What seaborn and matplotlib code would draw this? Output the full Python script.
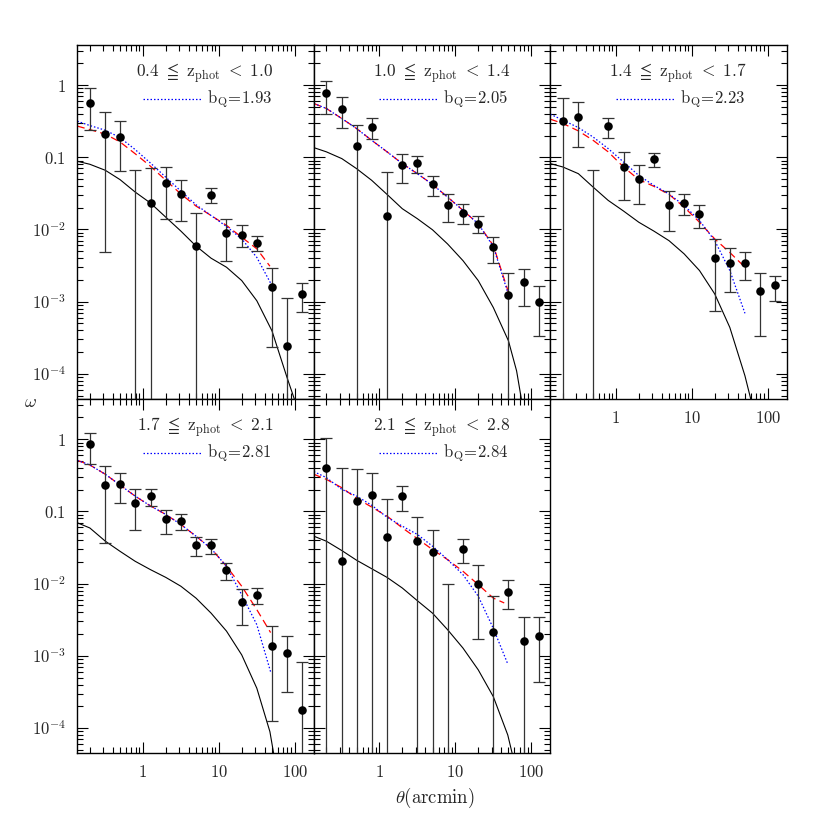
import numpy as np
import pandas as pd
import matplotlib
matplotlib.use("Agg")
import matplotlib.pyplot as plt
import seaborn as sns
from matplotlib.ticker import FixedLocator, FixedFormatter, LogLocator, NullFormatter

# ---------------- data ----------------
theta = [0.2, 0.32, 0.5, 0.79, 1.26, 2.0, 3.16, 5.0, 7.9, 12.6, 20.0, 31.6, 50.0, 79.0, 126.0]

# measured w(theta); nan = point below the plotted range; lo = 0 -> lower bar below range
w1 = [0.568, 0.213, 0.191, np.nan, 0.0232, 0.0445, 0.031, 0.00587, 0.0303, 0.009, 0.0085, 0.0064, 0.00158, 0.000247, 0.00128]
hi1 = [0.90, 0.417, 0.316, 0.066, 0.071, 0.0734, 0.049, 0.0167, 0.038, 0.0141, 0.0114, 0.0082, 0.00294, 0.00112, 0.00182]
lo1 = [0.237, 0.0049, 0.064, 0, 0, 0.0141, 0.0132, 0, 0.0229, 0.0037, 0.0058, 0.005, 0.000237, 0, 0.00073]

w2 = [0.766, 0.469, 0.142, 0.261, 0.0156, 0.0774, 0.0826, 0.042, 0.022, 0.017, 0.0119, 0.0057, 0.00124, 0.00187, 0.001]
hi2 = [1.15, 0.69, 0.284, 0.352, 0.0625, 0.112, 0.105, 0.055, 0.031, 0.0222, 0.0152, 0.0079, 0.0025, 0.0028, 0.00163]
lo2 = [0.395, 0.258, 0, 0.178, 0, 0.0445, 0.0605, 0.0294, 0.0128, 0.012, 0.0089, 0.0034, 0, 0.00088, 0.00033]

w3 = [0.316, 0.367, np.nan, 0.27, 0.0734, 0.0506, 0.0938, 0.022, 0.0235, 0.0162, 0.004, 0.00345, 0.00345, 0.0014, 0.0017]
hi3 = [0.667, 0.587, 0.066, 0.352, 0.1185, 0.078, 0.1137, 0.034, 0.0313, 0.0216, 0.0074, 0.0055, 0.0048, 0.00248, 0.0023]
lo3 = [0, 0.139, 0, 0.186, 0.0255, 0.0227, 0.0742, 0.0094, 0.016, 0.0105, 0.00075, 0.00135, 0.002, 0.00033, 0.00103]

w4 = [0.853, 0.232, 0.237, 0.13, 0.161, 0.0774, 0.0742, 0.034, 0.034, 0.0153, 0.0056, 0.00703, 0.00135, 0.00109, 0.000178]
hi4 = [1.21, 0.426, 0.337, 0.204, 0.202, 0.104, 0.093, 0.044, 0.0417, 0.0191, 0.0084, 0.0086, 0.0026, 0.0019, 0.00082]
lo4 = [0.46, 0.036, 0.13, 0.055, 0.1186, 0.048, 0.0556, 0.0245, 0.0258, 0.0111, 0.0027, 0.0053, 0.000125, 0.00032, 0]

w5 = [0.395, 0.0204, 0.139, 0.169, 0.0445, 0.161, 0.0387, 0.0272, np.nan, 0.0306, 0.0099, 0.00213, 0.00774, 0.00158, 0.0019]
hi5 = [1.03, 0.404, 0.387, 0.34, 0.15, 0.227, 0.0834, 0.0556, 0.0099, 0.0413, 0.018, 0.0068, 0.0111, 0.0035, 0.0034]
lo5 = [0, 0, 0, 0, 0, 0.1, 0, 0, 0, 0.0194, 0.0017, 0, 0.0045, 0, 0.00043]

# model curves
theta_m = [0.137, 0.2, 0.32, 0.5, 0.79, 1.26, 2.0, 3.16, 5.0, 7.9, 12.6, 20.0, 31.6]

red1 = [0.27, 0.242, 0.209, 0.163, 0.112, 0.075, 0.048, 0.031, 0.0211, 0.0156, 0.0114, 0.0078, 0.0054]
red2 = [0.556, 0.474, 0.344, 0.25, 0.172, 0.119, 0.0817, 0.0593, 0.042, 0.0281, 0.0184, 0.012, 0.006]
red3 = [0.337, 0.294, 0.232, 0.172, 0.119, 0.0734, 0.049, 0.0396, 0.0306, 0.0204, 0.0126, 0.0074, 0.0048]
red4 = [0.51, 0.44, 0.327, 0.232, 0.163, 0.119, 0.0908, 0.066, 0.0454, 0.0306, 0.0174, 0.0092, 0.00436]
red5 = [0.327, 0.278, 0.213, 0.152, 0.115, 0.086, 0.0593, 0.042, 0.0296, 0.0215, 0.0148, 0.0097, 0.0063]
red_end_t = [47.0, 50.0, 50.0, 48.0, 44.0]
red_end_w = [0.0031, 0.00135, 0.003, 0.0021, 0.0054]

blue1 = [0.316, 0.275, 0.237, 0.187, 0.128, 0.083, 0.053, 0.034, 0.022, 0.0156, 0.011, 0.0074, 0.0041]
blue2 = [0.556, 0.474, 0.344, 0.25, 0.172, 0.119, 0.0817, 0.0593, 0.042, 0.0281, 0.0184, 0.012, 0.0058]
blue3 = [0.395, 0.327, 0.258, 0.191, 0.132, 0.086, 0.056, 0.0408, 0.031, 0.0215, 0.0133, 0.007, 0.0027]
blue4 = [0.51, 0.44, 0.327, 0.232, 0.163, 0.119, 0.0908, 0.066, 0.0454, 0.0306, 0.0174, 0.007, 0.0027]
blue5 = [0.356, 0.294, 0.202, 0.163, 0.122, 0.083, 0.0625, 0.048, 0.033, 0.0215, 0.0133, 0.0067, 0.0024]
blue_end_t = [50.0, 50.0, 50.0, 48.0, 49.0]
blue_end_w = [0.00167, 0.00125, 0.00069, 0.0006, 0.00077]

bk1_t = [0.137, 0.2, 0.32, 0.5, 0.79, 1.26, 2.0, 3.16, 5.0, 7.9, 12.6, 20.0, 31.6, 50.0, 79.0, 104.0]
bk1_w = [0.088, 0.080, 0.066, 0.049, 0.033, 0.0232, 0.0148, 0.0095, 0.0059, 0.004, 0.003, 0.00196, 0.00103, 0.000395, 8.9e-5, 3.8e-5]
bk2_t = [0.137, 0.2, 0.32, 0.5, 0.79, 1.26, 2.0, 3.16, 5.0, 7.9, 12.6, 20.0, 31.6, 50.0, 64.0, 76.0]
bk2_w = [0.136, 0.119, 0.0958, 0.0696, 0.048, 0.0306, 0.0194, 0.0141, 0.0099, 0.0063, 0.0037, 0.00196, 0.00083, 0.000287, 0.00011, 3.8e-5]
bk3_t = [0.137, 0.2, 0.32, 0.5, 0.79, 1.26, 2.0, 3.16, 5.0, 7.9, 12.6, 20.0, 31.6, 50.0, 62.0]
bk3_w = [0.0817, 0.0734, 0.0593, 0.0387, 0.0253, 0.018, 0.0126, 0.0095, 0.007, 0.0046, 0.0027, 0.00128, 0.00044, 9.4e-5, 3.8e-5]
bk4_t = [0.137, 0.2, 0.32, 0.5, 0.79, 1.26, 2.0, 3.16, 5.0, 7.9, 12.6, 20.0, 31.6, 47.0, 54.0]
bk4_w = [0.0696, 0.059, 0.0387, 0.028, 0.0204, 0.0156, 0.0122, 0.0092, 0.0063, 0.0039, 0.0022, 0.00103, 0.000356, 8.9e-5, 3.8e-5]
bk5_t = [0.137, 0.2, 0.32, 0.5, 0.79, 1.26, 2.0, 3.16, 5.0, 7.9, 12.6, 20.0, 31.6, 49.0, 58.0]
bk5_w = [0.0454, 0.0387, 0.0287, 0.0211, 0.0161, 0.0122, 0.0087, 0.0058, 0.0039, 0.0023, 0.00128, 0.00064, 0.000272, 8e-5, 3.8e-5]

zlabels = [("0.4", "1.0"), ("1.0", "1.4"), ("1.4", "1.7"), ("1.7", "2.1"), ("2.1", "2.8")]
bq = ["1.93", "2.05", "2.23", "2.81", "2.84"]

ytick_vals = [1e-4, 1e-3, 1e-2, 0.1, 1]
ytick_labels = [r"$10^{-4}$", r"$10^{-3}$", r"$10^{-2}$", r"$0.1$", r"$1$"]
xtick_vals = [1, 10, 100]
xtick_labels = [r"$1$", r"$10$", r"$100$"]

# ---------------- style ----------------
sns.set_theme(style="ticks")
plt.rcParams.update({
    "font.family": ["DejaVu Serif"],
    "mathtext.fontset": "cm",
    "axes.linewidth": 1.0,
    "axes.edgecolor": "black",
})

fig = plt.figure(figsize=(8.3, 8.3), dpi=100)
gs = fig.add_gridspec(2, 3, left=77.3 / 830, right=786.8 / 830,
                      bottom=1 - 753.3 / 830, top=1 - 45 / 830,
                      wspace=0, hspace=0)

W = [w1, w2, w3, w4, w5]
HI = [hi1, hi2, hi3, hi4, hi5]
LO = [lo1, lo2, lo3, lo4, lo5]
RED = [red1, red2, red3, red4, red5]
BLUE = [blue1, blue2, blue3, blue4, blue5]
BKT = [bk1_t, bk2_t, bk3_t, bk4_t, bk5_t]
BKW = [bk1_w, bk2_w, bk3_w, bk4_w, bk5_w]
pos = [(0, 0), (0, 1), (0, 2), (1, 0), (1, 1)]

xlim = (10 ** -0.864, 10 ** 2.25)
ylim = (10 ** -4.35, 10 ** 0.555)

for i, (r, c) in enumerate(pos):
    ax = fig.add_subplot(gs[r, c])
    ax.set_xscale("log")
    ax.set_yscale("log")

    df = pd.DataFrame({"theta": theta, "w": W[i], "hi": HI[i], "lo": LO[i]})
    center = df["w"].fillna(df["hi"])
    lo_c = df["lo"].where(df["lo"] > 0, 1e-9)
    ax.errorbar(df["theta"], center, yerr=[center - lo_c, df["hi"] - center],
                fmt="none", ecolor="#333333", elinewidth=0.9, capsize=4.5,
                capthick=0.9, zorder=3)
    pts = df.dropna(subset=["w"])
    sns.scatterplot(data=pts, x="theta", y="w", ax=ax, color="black", s=38,
                    edgecolor="black", linewidth=0, zorder=4, legend=False)

    bk = pd.DataFrame({"t": BKT[i], "w": BKW[i]})
    sns.lineplot(data=bk, x="t", y="w", ax=ax, color="black", lw=0.8,
                 estimator=None, sort=False, zorder=2)
    rd = pd.DataFrame({"t": theta_m + [red_end_t[i]], "w": RED[i] + [red_end_w[i]]})
    sns.lineplot(data=rd, x="t", y="w", ax=ax, color="red", lw=0.9,
                 linestyle=(0, (6, 3.5)), estimator=None, sort=False, zorder=2)
    bl = pd.DataFrame({"t": theta_m + [blue_end_t[i]], "w": BLUE[i] + [blue_end_w[i]]})
    sns.lineplot(data=bl, x="t", y="w", ax=ax, color="blue", lw=0.9,
                 linestyle=(0, (1.2, 1.6)), estimator=None, sort=False, zorder=2)

    ax.set_xlim(*xlim)
    ax.set_ylim(*ylim)
    ax.set_xlabel("")
    ax.set_ylabel("")

    ax.yaxis.set_major_locator(FixedLocator(ytick_vals))
    ax.yaxis.set_major_formatter(FixedFormatter(ytick_labels))
    ax.yaxis.set_minor_locator(LogLocator(base=10, subs=np.arange(2, 10), numticks=20))
    ax.yaxis.set_minor_formatter(NullFormatter())
    ax.xaxis.set_major_locator(FixedLocator(xtick_vals))
    ax.xaxis.set_major_formatter(FixedFormatter(xtick_labels))
    ax.xaxis.set_minor_locator(LogLocator(base=10, subs=np.arange(2, 10), numticks=20))
    ax.xaxis.set_minor_formatter(NullFormatter())

    ax.tick_params(which="both", direction="in", top=True, right=True,
                   color="black", width=0.8, labelsize=12, pad=8)
    ax.tick_params(which="major", length=8)
    ax.tick_params(which="minor", length=4)
    ax.tick_params(labelleft=(c == 0),
                   labelbottom=(r == 1 or (r == 0 and c == 2)))
    for sp in ax.spines.values():
        sp.set_color("black")
        sp.set_linewidth(1.0)

    zlo, zhi = zlabels[i]
    ax.text(0.54, 0.921,
            r"$\mathrm{%s\ \leqq\ z_{phot}\ <\ %s}$" % (zlo, zhi),
            transform=ax.transAxes, ha="center", va="center", fontsize=12.5)
    ax.plot([0.277, 0.526], [0.847, 0.847], transform=ax.transAxes,
            color="blue", lw=0.9, linestyle=(0, (1.2, 1.6)))
    ax.text(0.547, 0.847, r"$\mathrm{b_{Q}\!=\!%s}$" % bq[i],
            transform=ax.transAxes, ha="left", va="center", fontsize=12)

fig.text(30 / 830, 1 - 402 / 830, r"$\omega$", ha="center", va="center", fontsize=13)
fig.text(435 / 830, 1 - 798 / 830, r"$\theta\mathrm{(arcmin)}$", ha="center",
         va="center", fontsize=13.5)

fig.savefig("out.png", dpi=100)
